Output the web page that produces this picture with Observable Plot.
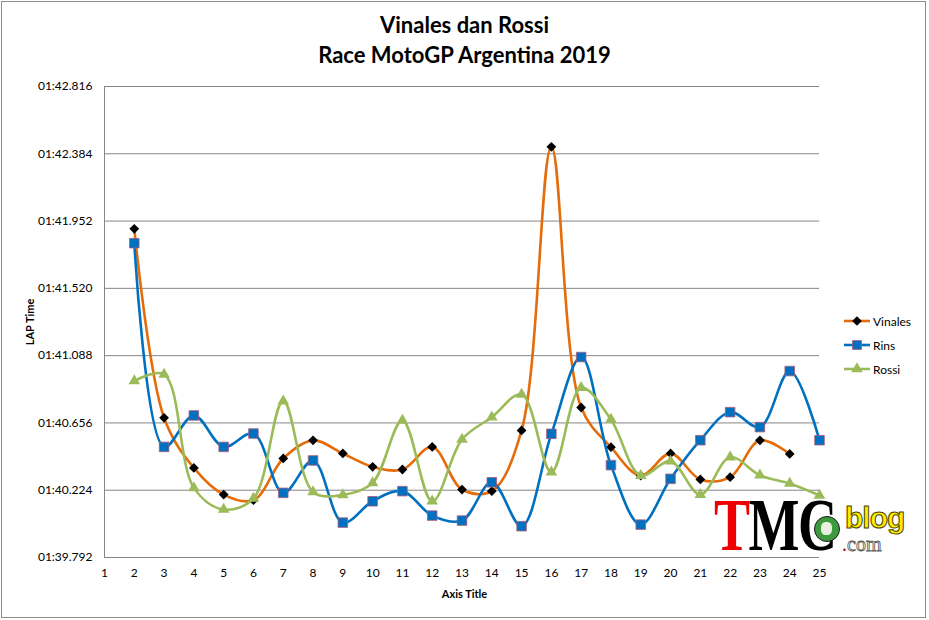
<!DOCTYPE html>
<html>
<head>
<meta charset="utf-8">
<script src="https://cdn.jsdelivr.net/npm/d3@7"></script>
<script src="https://cdn.jsdelivr.net/npm/@observablehq/plot@0.6"></script>
<style>
  html, body { margin: 0; padding: 0; background: #fff; }
  #wrap { position: relative; width: 929px; height: 620px; overflow: hidden; font-family: Lato, "Liberation Sans", sans-serif; }
  #frame { position: absolute; left: 1px; top: 1px; width: 923px; height: 615px; border: 1px solid #8c8c8c; pointer-events: none; }
  #chart { position: absolute; left: 0; top: 0; }
  .title { position: absolute; left: 0; width: 929px; text-align: center; font-weight: bold; font-size: 22px; line-height: 22px; color: #000; }
  #legend { position: absolute; left: 843px; top: 309px; font-size: 12px; }
  .li { display: flex; align-items: center; height: 24px; }
  .li svg { margin-right: 2px; }
  #xtitle { position: absolute; left: 0; width: 929px; top: 587px; text-align: center; font-weight: bold; font-size: 11px; }
  #ytitle { position: absolute; left: 29px; top: 322px; transform: translate(-50%, -50%) rotate(-90deg); font-weight: bold; font-size: 11px; white-space: nowrap; }
  #logo { position: absolute; left: 712px; top: 492px; width: 210px; height: 70px; }
  #tmc { position: absolute; left: 2px; top: -5px; font-family: "Liberation Serif", "DejaVu Serif", serif; font-weight: bold; font-size: 75px; line-height: 75px; transform: scaleX(0.72); transform-origin: left top; letter-spacing: -2px; white-space: nowrap; }
  #disc { position: absolute; left: 102px; top: 24px; width: 24px; height: 24px; border-radius: 50%; background: #3d9b3d; border: 1.5px solid #1a1a1a; }
  #disc::after { content: ""; position: absolute; left: 6px; top: 5px; width: 11px; height: 13px; border-radius: 40%; background: #e8f0e0; }
  #blog { position: absolute; left: 133px; top: 11px; font-family: "Liberation Sans", sans-serif; font-weight: bold; font-size: 30px; line-height: 30px; color: #ffec00; -webkit-text-stroke: 1px #4a4400; letter-spacing: -1px; }
  #com { position: absolute; left: 130px; top: 42px; font-family: "Liberation Serif", serif; font-size: 20px; line-height: 20px; color: #fff; -webkit-text-stroke: 0.8px #555; }
</style>
</head>
<body>
<div id="wrap">
  <div id="chart"></div>
  <div class="title" style="top:14px">Vinales dan Rossi</div>
  <div class="title" style="top:44px">Race MotoGP Argentina 2019</div>
  <div id="ytitle">LAP Time</div>
  <div id="xtitle">Axis Title</div>
  <div id="legend"></div>
  <div id="logo">
    <div id="tmc"><span style="color:#ee0000">T</span><span style="color:#000">MC</span></div>
    <div id="disc"></div>
    <div id="blog">blog</div>
    <div id="com"><span style="color:#b0002a;-webkit-text-stroke:0">.</span>com</div>
  </div>
  <div id="frame"></div>
</div>
<script>
// ---- data (lap times in seconds) ----
const xTicks = [1,2,3,4,5,6,7,8,9,10,11,12,13,14,15,16,17,18,19,20,21,22,23,24,25];
const yTicks = [99.792, 100.224, 100.656, 101.088, 101.520, 101.952, 102.384, 102.816];

const lapsVinales = [2,3,4,5,6,7,8,9,10,11,12,13,14,15,16,17,18,19,20,21,22,23,24];
const vinales = [101.902, 100.689, 100.367, 100.196, 100.160, 100.428, 100.544, 100.460, 100.374, 100.357, 100.502, 100.228, 100.218, 100.608, 102.429, 100.755, 100.500, 100.318, 100.460, 100.293, 100.308, 100.544, 100.457];

const lapsRins = [2,3,4,5,6,7,8,9,10,11,12,13,14,15,16,17,18,19,20,21,22,23,24,25];
const rins = [101.810, 100.502, 100.704, 100.502, 100.588, 100.207, 100.415, 100.016, 100.153, 100.218, 100.061, 100.029, 100.275, 99.993, 100.586, 101.079, 100.385, 100.003, 100.297, 100.545, 100.725, 100.629, 100.989, 100.545];

const lapsRossi = [2,3,4,5,6,7,8,9,10,11,12,13,14,15,16,17,18,19,20,21,22,23,24,25];
const rossi = [100.925, 100.968, 100.239, 100.100, 100.171, 100.796, 100.213, 100.194, 100.271, 100.672, 100.153, 100.550, 100.693, 100.839, 100.340, 100.882, 100.678, 100.318, 100.410, 100.196, 100.436, 100.320, 100.267, 100.190];

const seriesNames = ["Vinales", "Rins", "Rossi"];
const seriesColors = ["#e46c0a", "#0070c0", "#9bbb59"];

// ---- helpers ----
const fmtTime = v => {
  const m = Math.floor(v / 60);
  const s = v - m * 60;
  return String(m).padStart(2, "0") + ":" + s.toFixed(3).padStart(6, "0");
};
const rows = (laps, vals) => laps.map((l, i) => ({lap: l, t: vals[i]}));
const vData = rows(lapsVinales, vinales);
const rData = rows(lapsRins, rins);
const sData = rows(lapsRossi, rossi);

const chart = Plot.plot({
  width: 929,
  height: 620,
  marginLeft: 104,
  marginRight: 110,
  marginTop: 86,
  marginBottom: 63,
  style: {fontFamily: "Lato, 'Liberation Sans', sans-serif", fontSize: "12px", background: "transparent"},
  x: {domain: [1, 25]},
  y: {domain: [99.792, 102.816]},
  marks: [
    Plot.ruleY(yTicks, {stroke: "#868686", strokeWidth: 1}),
    Plot.ruleX([1], {stroke: "#868686", strokeWidth: 1}),
    Plot.axisY({ticks: yTicks, tickFormat: fmtTime, tickSize: 0, tickPadding: 12, label: null, fontSize: 12, fill: "#000"}),
    Plot.axisX({ticks: xTicks, tickFormat: d => String(d), tickSize: 0, tickPadding: 11, label: null, fontSize: 12, fill: "#000"}),
    // Vinales
    Plot.line(vData, {x: "lap", y: "t", stroke: seriesColors[0], strokeWidth: 2.6, curve: "catmull-rom"}),
    Plot.dot(vData, {x: "lap", y: "t", symbol: "diamond2", r: 4.4, fill: "#000", stroke: "none"}),
    // Rins
    Plot.line(rData, {x: "lap", y: "t", stroke: seriesColors[1], strokeWidth: 2.6, curve: "catmull-rom"}),
    Plot.dot(rData, {x: "lap", y: "t", symbol: "square", r: 5.4, fill: "#0070c0", stroke: "#b05a7a", strokeWidth: 0.8}),
    // Rossi
    Plot.line(sData, {x: "lap", y: "t", stroke: seriesColors[2], strokeWidth: 2.6, curve: "catmull-rom"}),
    Plot.dot(sData, {x: "lap", y: "t", symbol: "triangle", r: 4.3, fill: "#9bbb59", stroke: "none"})
  ]
});
document.getElementById("chart").appendChild(chart);

// ---- legend ----
const legend = d3.select("#legend");
const symbols = [d3.symbolDiamond2, d3.symbolSquare, d3.symbolTriangle];
const symFill = ["#000", "#0070c0", "#9bbb59"];
const symSize = [60, 80, 58];
seriesNames.forEach((name, i) => {
  const item = legend.append("div").attr("class", "li");
  const s = item.append("svg").attr("width", 28).attr("height", 14);
  s.append("line").attr("x1", 1).attr("x2", 27).attr("y1", 7).attr("y2", 7)
    .attr("stroke", seriesColors[i]).attr("stroke-width", 2.6);
  s.append("path").attr("transform", "translate(14,7)")
    .attr("d", d3.symbol(symbols[i], symSize[i])())
    .attr("fill", symFill[i]).attr("stroke", i === 1 ? "#b05a7a" : "none").attr("stroke-width", 0.8);
  item.append("span").text(name);
});
</script>
</body>
</html>
